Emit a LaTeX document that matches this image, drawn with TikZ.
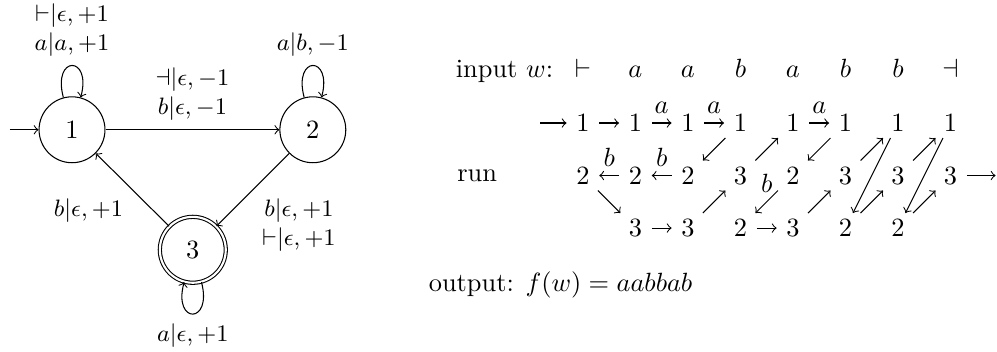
\documentclass[tikz,border=0pt]{standalone}
\usepackage{amsmath}
\newcommand{\tlab}[3]{${#1}|#2, #3$}% transition label  read|write, move

\begin{document}
\begin{tikzpicture}[
      stnode/.style={circle,draw,minimum size=2.5em,inner sep=0pt},
      finalnode/.style={stnode,double,double distance=0.8pt},
      lbl/.style={font=\small,align=center},
      sym/.style={anchor=base,inner sep=1pt},
      cell/.style={minimum width=12pt,minimum height=11pt,inner sep=0pt},
      mv/.style={->},
      every loop/.style={looseness=6.5}]
    \useasboundingbox (0,0) rectangle (13.29,4.69);

    % ---- the automaton ------------------------------------------------
    \node[stnode] (n1) at (0.96,2.96) {$1$};
    \node[stnode] (n2) at (4.17,2.96) {$2$};
    \node[finalnode] (n3) at (2.57,1.36) {$3$};
    \coordinate (init) at (0.13,2.96);
    \draw[mv] (init) -- (n1);
    \path[mv,auto]
      (n1) edge[loop above] node[lbl] {\tlab{\vdash}{\epsilon}{+1}\\ \tlab{a}{a}{+1}} ()
           edge node[lbl] {\tlab{\dashv}{\epsilon}{-1}\\ \tlab{b}{\epsilon}{-1}} (n2)
      (n2) edge[loop above] node[lbl] {\tlab{a}{b}{-1}} ()
           edge node[lbl] {\tlab{b}{\epsilon}{+1}\\ \tlab{\vdash}{\epsilon}{+1}} (n3)
      (n3) edge[loop below] node[lbl] {\tlab{a}{\epsilon}{+1}} ()
           edge node[lbl] {\tlab{b}{\epsilon}{+1}} (n1);

    % ---- input word ---------------------------------------------------
    \node[anchor=base west,inner sep=0pt] (inlbl) at (6.07,3.66) {input $w$:};
    \foreach \s [count=\i] in {\vdash,a,a,b,a,b,b,\dashv}
      \node[sym] (w\i) at ({7.77+0.7*(\i-1)},3.66) {$\s$};

    % ---- the run ------------------------------------------------------
    \node[anchor=west,inner sep=0pt] (runlbl) at (6.09,2.35) {run};
    \foreach \s [count=\i] in {1,1,1,1,1,1,1,1}
      \node[cell] (top\i) at ({7.77+0.7*(\i-1)},3.05) {$\s$};
    \foreach \s [count=\i] in {2,2,2,3,2,3,3,3}
      \node[cell] (mid\i) at ({7.77+0.7*(\i-1)},2.35) {$\s$};
    \foreach \s [count=\i from 2] in {3,3,2,3,2,2}
      \node[cell] (bot\i) at ({7.77+0.7*(\i-1)},1.65) {$\s$};
    \coordinate (rstart) at (7.2,3.05);
    \coordinate (rend) at (13.27,2.35);
    \draw[mv] (rstart) -- (top1);
    \draw[mv] (mid8) -- (rend);
    \foreach \p/\q in {top1/top2,mid1/bot2,bot2/bot3,top4/mid3,bot3/mid4,
                       mid4/top5,bot4/bot5,top6/mid5,bot5/mid6,mid6/top7,
                       top7/bot6,bot6/mid7,mid7/top8,top8/bot7,bot7/mid8}
      \draw[mv] (\p) -- (\q);
    \foreach \p/\q/\c in {top2/top3/a,top3/top4/a,top5/top6/a,
                          mid2/mid1/b,mid3/mid2/b,mid5/bot4/b}
      \draw[mv] (\p) -- node[above] {$\c$} (\q);

    \node[anchor=west,inner sep=0pt] (outlbl) at (5.71,0.89) {output: $f(w)=aabbab$};
  \end{tikzpicture}
\end{document}
